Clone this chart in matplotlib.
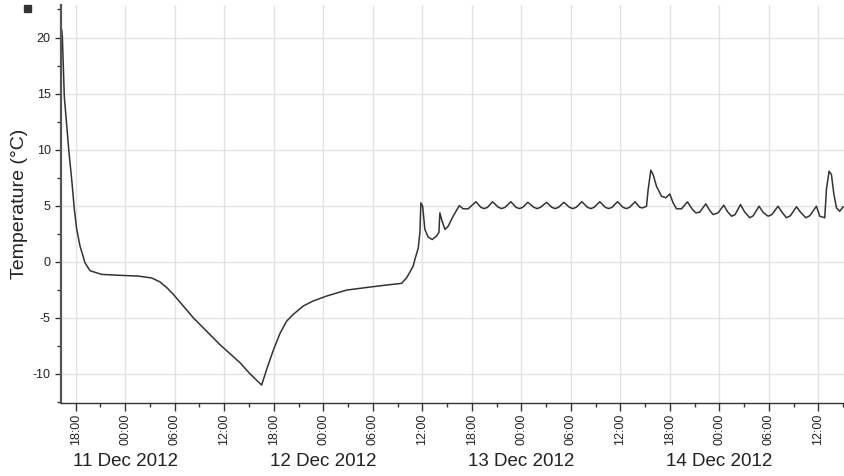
import datetime as dt
import matplotlib
matplotlib.use("Agg")
import matplotlib.pyplot as plt
import matplotlib.dates as mdates
from matplotlib.ticker import MultipleLocator
from matplotlib.patches import Rectangle
import matplotlib.transforms as mtransforms

plt.rcParams["font.family"] = ["Liberation Sans", "DejaVu Sans"]
plt.rcParams["axes.unicode_minus"] = False

# Logger readings: hours since 10 Dec 2012 18:00, temperature in °C
start_time = dt.datetime(2012, 12, 10, 18, 0)
hours = [
    -1.70, -1.62, -1.50, -1.38, -1.09, -0.81, -0.48, -0.17, 0.12, 0.52,
    1.13, 1.73, 3.15, 5.57, 7.58, 9.21, 10.21, 11.02, 11.82, 14.25,
    17.48, 19.90, 21.12, 22.53, 23.14, 23.94, 24.75, 25.56, 26.36, 27.57,
    28.78, 30.41, 32.83, 35.65, 37.67, 39.49, 40.10, 40.90, 41.10, 41.50,
    41.71, 41.83, 42.04, 42.31, 42.71, 43.20, 43.73, 44.01, 44.13, 44.34,
    44.74, 45.14, 45.74, 46.47, 46.95, 47.56,
    48.49, 49.10, 49.50, 49.90,
    50.51, 51.22, 51.62, 52.02,
    52.73, 53.36, 53.76, 54.16,
    54.79, 55.52, 55.92, 56.32,
    57.06, 57.70, 58.10, 58.50,
    59.15, 59.84, 60.24, 60.64,
    61.33, 62.02, 62.42, 62.82,
    63.51, 64.18, 64.58, 64.98,
    65.66, 66.32, 66.72, 67.12,
    67.79, 68.35, 68.69, 69.17, 69.36, 69.69, 69.97,
    70.38, 70.99, 71.51, 71.99, 72.39, 72.80, 73.41, 74.13,
    74.70, 75.14, 75.62, 76.35,
    76.90, 77.24, 77.84, 78.53,
    79.00, 79.47, 79.90, 80.56,
    81.05, 81.68, 82.10, 82.81,
    83.30, 83.90, 84.35, 85.11,
    85.60, 86.13, 86.60, 87.34,
    87.85, 88.47, 88.95, 89.76,
    90.16, 90.77, 90.97, 91.29, 91.58, 91.85, 92.19, 92.58, 93.00,
]
temperature = [
    20.7, 20.1, 17.4, 14.7, 12.1, 9.7, 7.3, 4.7, 2.9, 1.4,
    -0.1, -0.8, -1.13, -1.22, -1.28, -1.45, -1.8, -2.3, -2.9, -5.0,
    -7.4, -9.0, -10.0, -11.0, -9.6, -7.9, -6.4, -5.3, -4.7, -3.95,
    -3.5, -3.06, -2.53, -2.26, -2.08, -1.93, -1.43, -0.39, 0.2, 1.2,
    2.6, 5.25, 4.95, 2.88, 2.2, 1.98, 2.3, 2.6, 4.36, 3.77,
    2.88, 3.17, 4.06, 5.0, 4.72, 4.72,
    5.35, 4.85, 4.74, 4.85,
    5.35, 4.85, 4.74, 4.85,
    5.35, 4.85, 4.74, 4.85,
    5.3, 4.85, 4.74, 4.85,
    5.3, 4.85, 4.74, 4.85,
    5.3, 4.85, 4.74, 4.85,
    5.35, 4.85, 4.74, 4.85,
    5.35, 4.85, 4.74, 4.85,
    5.35, 4.85, 4.74, 4.85,
    5.35, 4.85, 4.8, 4.95, 6.4, 8.16, 7.77,
    6.73, 5.84, 5.7, 6.05, 5.25, 4.72, 4.72, 5.34,
    4.7, 4.36, 4.42, 5.16,
    4.5, 4.21, 4.36, 5.04,
    4.45, 4.06, 4.2, 5.1,
    4.45, 3.92, 4.1, 4.95,
    4.4, 4.06, 4.2, 4.95,
    4.4, 3.92, 4.1, 4.9,
    4.4, 3.92, 4.1, 4.95,
    4.06, 3.92, 6.44, 8.07, 7.77, 6.14, 4.8, 4.5, 4.9,
]

day_labels = ["11 Dec 2012", "12 Dec 2012", "13 Dec 2012", "14 Dec 2012"]
day_dates = [dt.datetime(2012, 12, d) for d in (11, 12, 13, 14)]

times = [start_time + dt.timedelta(hours=h) for h in hours]

fig = plt.figure(figsize=(8.44, 4.76), dpi=100)
ax = fig.add_axes([0.0723, 0.1534, 0.9277, 0.8361])

ax.plot(times, temperature, color="#333333", lw=1.1)

ax.set_xlim(start_time + dt.timedelta(hours=-1.78),
            start_time + dt.timedelta(hours=93.1))
ax.set_ylim(-12.6, 22.9)

ax.xaxis.set_major_locator(mdates.HourLocator(byhour=[0, 6, 12, 18]))
ax.xaxis.set_minor_locator(mdates.HourLocator(byhour=[3, 9, 15, 21]))
ax.xaxis.set_major_formatter(mdates.DateFormatter("%H:%M"))
ax.yaxis.set_major_locator(MultipleLocator(5))
ax.yaxis.set_minor_locator(MultipleLocator(2.5))

for lab in ax.get_xticklabels():
    lab.set_rotation(90)

ax.tick_params(axis="both", which="major", labelsize=9, colors="#333333",
               length=4, width=1, labelcolor="#222222")
ax.tick_params(axis="both", which="minor", length=3, width=1, colors="#333333")
ax.tick_params(axis="x", which="major", length=6, pad=2)

ax.grid(True, which="major", color="#e3e3e3", lw=1)
ax.set_axisbelow(True)

for side in ("top", "right"):
    ax.spines[side].set_visible(False)
ax.spines["left"].set_color("#555555")
ax.spines["left"].set_linewidth(1.6)
ax.spines["bottom"].set_color("#333333")
ax.spines["bottom"].set_linewidth(1.0)

ax.set_ylabel("Temperature (°C)", fontsize=14, color="#222222", labelpad=3)

# Day captions centred on each midnight below the hour labels
trans = mtransforms.blended_transform_factory(ax.transData, ax.transAxes)
for label, day in zip(day_labels, day_dates):
    ax.text(mdates.date2num(day), -0.148, label, transform=trans,
            ha="center", va="center", fontsize=13.5, color="#222222")

# Small series marker at the top-left corner
fig.patches.append(Rectangle((24 / 844, 1 - 12 / 476), 7 / 844, 7 / 476,
                             transform=fig.transFigure, color="#333333"))

fig.savefig("out.png", dpi=100)
